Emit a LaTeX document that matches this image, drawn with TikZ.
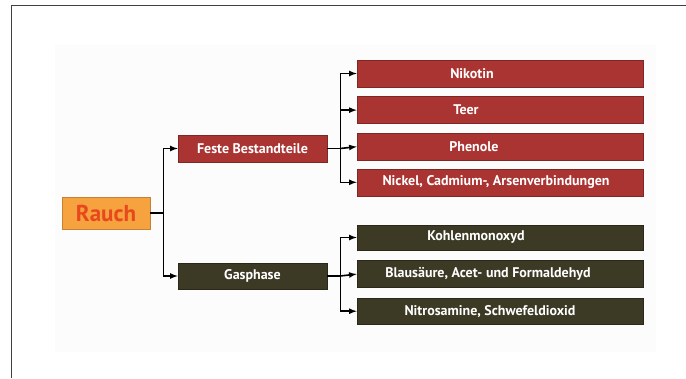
\documentclass[tikz,border=0pt]{standalone}
\usepackage{fontspec}
\setmainfont{PT Sans}
\usepackage{tikz}
\usetikzlibrary{arrows}
\usetikzlibrary{positioning}
\usetikzlibrary{calc}
\definecolor{rotbox}{RGB}{170,52,50}
\definecolor{dunkelbox}{RGB}{60,57,36}
\definecolor{rauchfill}{RGB}{246,162,62}
\definecolor{rauchtext}{RGB}{232,72,30}

\begin{document}
\begin{tikzpicture}[x=1pt,y=-1pt,line width=1.6pt]
\tikzstyle{box}=[minimum height=27pt,inner sep=2pt,line width=0.6pt,text=white,font=\bfseries\fontsize{14}{16}\selectfont]
\tikzstyle{rot}=[box,fill=rotbox,draw=rotbox!75!black]
\tikzstyle{dunkel}=[box,fill=dunkelbox,draw=dunkelbox!70!black]
\useasboundingbox (0,0) rectangle (686,378);
\fill[black!1] (55,45) rectangle (656,352);
\draw[line width=1pt,black!75] (11,378) -- (11,5) -- (686,5);

\node [box,fill=rauchfill,draw=rauchfill!80!black,minimum width=88pt,minimum height=32pt,
  text=rauchtext,font=\bfseries\fontsize{23}{25}\selectfont] (rauch) at (106,213) {Rauch};

\node [rot,minimum width=149pt] (feste) at (252.5,148.5) {Feste Bestandteile};
\node [dunkel,minimum width=149pt,minimum height=26pt] (gas) at (252.5,276) {Gasphase};

% feste Bestandteile
\node [rot,minimum width=286pt] (nik) at (500,73.5) {\hspace*{-56pt}Nikotin};
\node [rot,minimum width=286pt,below=9pt of nik] (teer) {\hspace*{-68pt}Teer};
\node [rot,minimum width=286pt,below=9pt of teer] (phen) {\hspace*{-52pt}Phenole};
\node [rot,minimum width=286pt,below=8pt of phen] (nick) {\hspace*{-8pt}Nickel, Cadmium-, Arsenverbindungen};

% Gasphase
\node [dunkel,minimum width=286pt,minimum height=25pt] (kohl) at (500,237.5) {\hspace*{-48pt}Kohlenmonoxyd};
\node [dunkel,minimum width=286pt,below=10pt of kohl] (blau) {\hspace*{-24pt}Blausäure, Acet- und Formaldehyd};
\node [dunkel,minimum width=286pt,minimum height=26pt,below=10pt of blau] (nitro) {\hspace*{-20pt}Nitrosamine, Schwefeldioxid};

\coordinate (A) at ($(rauch.east)+(13pt,0)$);
\coordinate (B) at ($(feste.east)+(13pt,0)$);
\coordinate (C) at ($(gas.east)+(13pt,0)$);

\draw (rauch.east) -- (A);
\draw[->,>=latex] (A) |- (feste.west);
\draw[->,>=latex] (A) |- (gas.west);

\draw (feste.east) -- (B);
\draw[->,>=latex] (B) |- (nik.west);
\draw[->,>=latex] (B) |- (teer.west);
\draw[->,>=latex] (B) -- (phen.west);
\draw[->,>=latex] (B) |- (nick.west);

\draw (gas.east) -- (C);
\draw[->,>=latex] (C) |- (kohl.west);
\draw[->,>=latex] (C) -- (blau.west);
\draw[->,>=latex] (C) |- (nitro.west);
\end{tikzpicture}
\end{document}
